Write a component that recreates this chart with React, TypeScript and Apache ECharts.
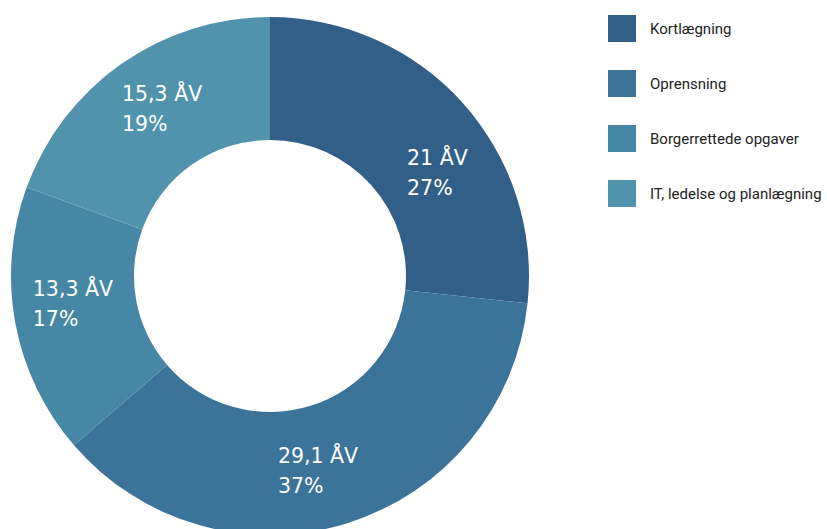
import React, { useEffect, useRef } from "react";
import * as echarts from "echarts";

const categories = ["Kortlægning", "Oprensning", "Borgerrettede opgaver", "IT, ledelse og planlægning"];
const values = [21, 29.1, 13.3, 15.3];
const colors = ["#325f88", "#3b7399", "#4787a6", "#5193ad"];
const labelOffsets: [number, number][] = [[28, 31], [-12, 4], [0, -8], [7, -3]];

export default function App() {
  const ref = useRef<HTMLDivElement>(null);
  useEffect(() => {
    if (!ref.current) return;
    const chart = echarts.init(ref.current, undefined, { renderer: "svg" });
    chart.setOption({
      animation: false,
      backgroundColor: "#ffffff",
      textStyle: { fontFamily: "Roboto, 'Liberation Sans', sans-serif" },
      legend: {
        orient: "vertical",
        left: 608,
        top: 15,
        padding: 0,
        icon: "rect",
        itemWidth: 28,
        itemHeight: 27,
        itemGap: 28,
        data: categories,
        textStyle: { fontSize: 15, color: "#222222", padding: [0, 0, 0, 9] },
      },
      series: [
        {
          type: "pie",
          center: [270, 276],
          radius: [136, 259],
          startAngle: 90,
          clockwise: true,
          avoidLabelOverlap: false,
          label: {
            show: true,
            position: "inside",
            formatter: (p: any) =>
              "{a|" + String(p.value).replace(".", ",") + " ÅV}\n{a|" + Math.round(p.percent) + "%}",
            rich: {
              a: {
                width: 80,
                align: "left",
                color: "#ffffff",
                fontFamily: "'DejaVu Sans', sans-serif",
                fontSize: 20.5,
                lineHeight: 30,
              },
            },
          },
          labelLine: { show: false },
          data: categories.map((name, i) => ({
            name,
            value: values[i],
            itemStyle: { color: colors[i] },
            label: { offset: labelOffsets[i] },
          })),
        },
      ],
    });
    return () => chart.dispose();
  }, []);
  return <div ref={ref} style={{ position: "fixed", left: 0, top: 0, width: 827, height: 529 }} />;
}
